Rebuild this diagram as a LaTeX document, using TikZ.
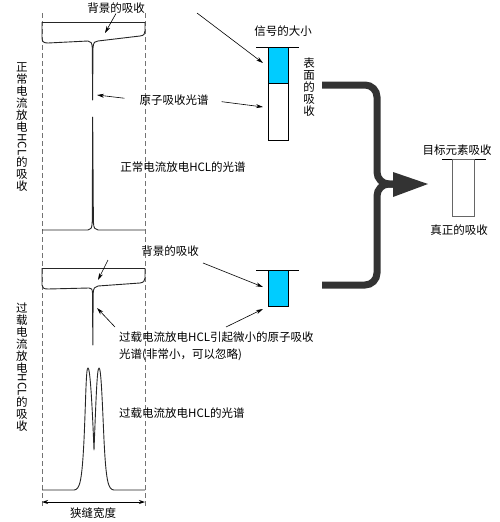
\documentclass[tikz,border=0pt]{standalone}
\usepackage{graphicx}
\usepackage{fontspec}
\setmainfont{Noto Sans CJK SC}
\usetikzlibrary{arrows.meta}
\definecolor{sigcyan}{RGB}{0,204,255}

\begin{document}
\begin{tikzpicture}[x=1pt,y=-1pt,
  lab/.style={font=\fontsize{11.5}{12}\selectfont, inner sep=0pt},
  vlab/.style={lab, align=center},
  spec/.style={line width=0.9pt, black!85, line join=round},
  ptr/.style={-{Stealth[length=7pt,width=4pt]}, line width=0.6pt},
  slit/.style={dash pattern=on 5pt off 3pt, black!55, line width=0.8pt},
  bigarrow/.style={line width=7pt, black!80, rounded corners=12pt}]

  \useasboundingbox (0,0) rectangle (500,522);

  % slit edges
  \draw[slit] (42,13) -- (42,507);
  \draw[slit] (145,13) -- (145,507);

  % normal current: background and atomic absorption
  \draw[spec] (42,22) -- (145,22);
  \draw[spec] (42,22) -- (42,38) .. controls (42,42) and (44,43) .. (48,43) -- (88,41)
    .. controls (91,41) and (92,43) .. (92.3,48) -- (92.6,100) -- (93,48)
    .. controls (93.3,42) and (95,41) .. (98,41) -- (140,36)
    .. controls (144,35.5) and (145,34) .. (145,31) -- (145,22);

  % normal current: emission line of the HCL
  \draw[spec] (42,230) -- (88,230) .. controls (91,230) and (92,228) .. (92.2,222)
    -- (92.7,117) -- (93.4,222) .. controls (93.6,228) and (95,230) .. (98,230) -- (145,230);

  % overload current: background and small absorption
  \draw[spec] (42,268) -- (145,268);
  \draw[spec] (42,268) -- (42,285) .. controls (42,288) and (44,289) .. (48,289) -- (89,288)
    .. controls (91.5,288) and (92.3,289) .. (92.5,293) -- (92.8,345) -- (93.2,293)
    .. controls (93.4,288) and (95,286.5) .. (98,286) -- (140,283)
    .. controls (143.5,282.5) and (145,281) .. (145,278) -- (145,268);

  % overload current: self-reversed line
  \draw[spec] (42,490) -- (74,490) .. controls (80,490) and (82,480) .. (84,440)
    .. controls (86,395) and (86,368) .. (88,368) .. controls (90,368) and (92,400) .. (94,450)
    .. controls (96,400) and (97,368) .. (99,368) .. controls (101,368) and (102,395) .. (104,440)
    .. controls (106,480) and (108,490) .. (114,490) -- (145,490);

  % slit width
  \coordinate (slitl) at (42,502);
  \coordinate (slitr) at (145,502);
  \draw[{Stealth[length=6pt,width=4pt]}-{Stealth[length=6pt,width=4pt]}, line width=0.8pt] (slitl) -- (slitr);
  \node[lab] (slitw) at (93,513) {狭缝宽度};

  % labels
  \node[lab] (bg1) at (116,8) {背景的吸收};
  \node[lab] (atom) at (174,100) {原子吸收光谱};
  \node[lab] (hcl1) at (183,167) {正常电流放电HCL的光谱};
  \node[lab] (bg2) at (170,251) {背景的吸收};
  \node[lab, font=\fontsize{11.5}{17}\selectfont, anchor=west, align=left] (small) at (119,346.5)
    {过载电流放电HCL引起微小的原子吸收\\光谱(非常小，可以忽略)};
  \node[lab, anchor=west] (hcl2) at (119,413) {过载电流放电HCL的光谱};
  \node[vlab] (axis1) at (22,127) {正\\常\\电\\流\\放\\电\\\rotatebox[origin=c]{-90}{HCL}\\的\\吸\\收};
  \node[vlab] (axis2) at (22,367) {过\\载\\电\\流\\放\\电\\\rotatebox[origin=c]{-90}{HCL}\\的\\吸\\收};
  \node[lab] (sig) at (283,31) {信号的大小};
  \node[vlab] (surf) at (309,87) {表\\面\\的\\吸\\收};
  \node[lab] (target) at (457,150) {目标元素吸收};
  \node[lab] (real) at (459,230) {真正的吸收};

  % signal bars
  \draw[line width=0.8pt] (256,47) -- (299,47);
  \fill[sigcyan] (268,47) rectangle (288,83);
  \draw[line width=0.8pt] (268,47) rectangle (288,140);
  \draw[line width=0.5pt] (268,83) -- (288,83);

  \draw[line width=0.8pt] (256,270) -- (299,270);
  \filldraw[fill=sigcyan, line width=0.8pt] (268,270) rectangle (288,306);

  \draw[line width=0.8pt] (442,159) -- (486,159);
  \draw[black!60, line width=0.8pt] (452,159) rectangle (474,216);

  % pointers
  \coordinate (bgtip1) at (105,33);
  \coordinate (sigfrom) at (197,13);
  \coordinate (sigtip) at (263,63);
  \coordinate (atomtip1) at (97,95);
  \coordinate (atomtip2) at (263,107);
  \coordinate (bgfrom2) at (108,260);
  \coordinate (bgtip2) at (98,280);
  \coordinate (bgfrom3) at (203,263);
  \coordinate (bgtip3) at (263,287);
  \coordinate (smallfrom1) at (115,327);
  \coordinate (smalltip1) at (97,308);
  \coordinate (smallfrom2) at (226,327);
  \coordinate (smalltip2) at (263,309);

  \draw[ptr] (bg1.south) -- (bgtip1);
  \draw[ptr] (sigfrom) -- (sigtip);
  \draw[ptr, shorten <=15pt] (atom.west) -- (atomtip1);
  \draw[ptr, shorten <=13pt] (atom.east) -- (atomtip2);
  \draw[ptr] (bgfrom2) -- (bgtip2);
  \draw[ptr] (bgfrom3) -- (bgtip3);
  \draw[ptr] (smallfrom1) -- (smalltip1);
  \draw[ptr] (smallfrom2) -- (smalltip2);

  % big merging arrow
  \draw[bigarrow] (322,85) -- (377,85) -- (377,184) -- (396,184);
  \draw[bigarrow] (322,285) -- (377,285) -- (377,184) -- (396,184);
  \fill[black!80] (393,172) -- (428,184) -- (393,197) -- cycle;
\end{tikzpicture}
\end{document}
